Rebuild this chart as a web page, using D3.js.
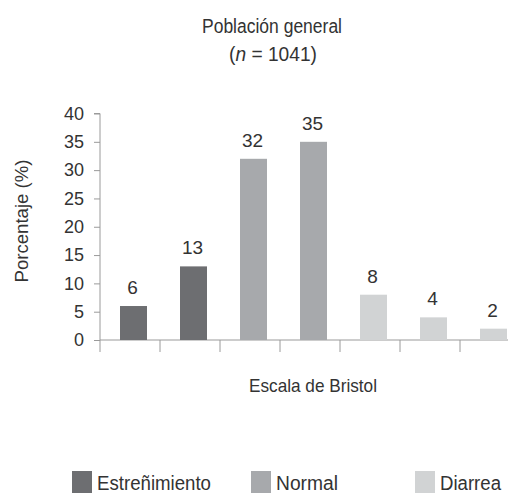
<!DOCTYPE html>
<html>
<head>
<meta charset="utf-8">
<script src="https://cdn.jsdelivr.net/npm/d3@7"></script>
<style>
  html, body { margin: 0; padding: 0; background: #fff; }
  svg { display: block; }
  text { font-family: "Liberation Sans", Arial, "Helvetica Neue", sans-serif; fill: #333; }
</style>
</head>
<body>
<svg id="chart" width="508" height="494"></svg>
<script>
// Bristol stool scale types 1–7, share of the general population (%)
const categories = ["1", "2", "3", "4", "5", "6", "7"];
const values = [6, 13, 32, 35, 8, 4, 2];
const groupOf = ["Estreñimiento", "Estreñimiento", "Normal", "Normal", "Diarrea", "Diarrea", "Diarrea"];
const groups = ["Estreñimiento", "Normal", "Diarrea"];
const groupColors = ["#6d6e71", "#a7a9ac", "#d1d3d4"];
const yTicks = [0, 5, 10, 15, 20, 25, 30, 35, 40];

const svg = d3.select("#chart");
const axisColor = "#9a9a9a";
const fontStack = '"Liberation Sans", Arial, sans-serif';

// Narrow a text run to a set advance width (condensed look)
function condense(sel, width) {
  sel.attr("textLength", width).attr("lengthAdjust", "spacingAndGlyphs");
  return sel;
}

const color = d3.scaleOrdinal().domain(groups).range(groupColors);

const x = d3.scaleBand().domain(categories).range([100, 520]).padding(0);
const y = d3.scaleLinear().domain([0, 40]).range([340, 113.5]);

// Title
condense(svg.append("text").attr("x", 272).attr("y", 32.5).attr("text-anchor", "middle")
  .style("font-size", "20px").text("Población general"), 140);
const sub = svg.append("text").attr("x", 273).attr("y", 61).attr("text-anchor", "middle")
  .style("font-size", "20px");
sub.append("tspan").text("(");
sub.append("tspan").style("font-style", "italic").text("n");
sub.append("tspan").text(" = 1041)");
condense(sub, 88);

// Y axis
const yAxis = d3.axisLeft(y).tickValues(yTicks).tickSize(6).tickPadding(10);
const gy = svg.append("g").attr("transform", "translate(100,0)").call(yAxis);
gy.select(".domain").attr("stroke", axisColor).attr("d", `M-6,${y(40)}H0V${y(0)}`);
gy.selectAll(".tick line").attr("stroke", axisColor);
gy.selectAll(".tick text").style("font-size", "18px").attr("fill", "#333")
  .style("font-family", fontStack);

// X baseline with category separators below it
const xAxis = d3.axisBottom(x).tickSize(12).tickFormat("");
const gx = svg.append("g").attr("transform", `translate(0,${y(0)})`).call(xAxis);
gx.select(".domain").attr("stroke", axisColor).attr("d", "M100,0H520");
gx.selectAll(".tick line").attr("stroke", axisColor)
  .attr("transform", `translate(${-x.bandwidth() / 2},0)`);

// Bars
const barOffset = x.step() / 3;
const barWidth = x.step() * 0.45;
svg.append("g").selectAll("rect").data(categories).join("rect")
  .attr("x", d => x(d) + barOffset)
  .attr("y", (d, i) => y(values[i]))
  .attr("width", barWidth)
  .attr("height", (d, i) => y(0) - y(values[i]))
  .attr("fill", (d, i) => color(groupOf[i]));

// Value labels
svg.append("g").selectAll("text").data(categories).join("text")
  .attr("x", d => x(d) + barOffset + barWidth / 2 - 1)
  .attr("y", (d, i) => y(values[i]) - 12)
  .attr("text-anchor", "middle")
  .style("font-size", "19px")
  .text((d, i) => values[i]);

// Axis titles
condense(svg.append("text").attr("transform", "translate(28,221) rotate(-90)")
  .attr("text-anchor", "middle").style("font-size", "19px").text("Porcentaje (%)"), 123);
condense(svg.append("text").attr("x", 313).attr("y", 391.5).attr("text-anchor", "middle")
  .style("font-size", "18.5px").text("Escala de Bristol"), 128);

// Legend
const legendX = [72, 251, 415];
const legendW = [114, 62, 61];
const lg = svg.append("g").selectAll("g").data(groups).join("g")
  .attr("transform", (d, i) => `translate(${legendX[i]},471)`);
lg.append("rect").attr("width", 20).attr("height", 22).attr("fill", d => color(d));
lg.append("text").attr("x", 25).attr("y", 18.5).style("font-size", "20px")
  .text(d => d)
  .each(function (d, i) { condense(d3.select(this), legendW[i]); });
</script>
</body>
</html>
